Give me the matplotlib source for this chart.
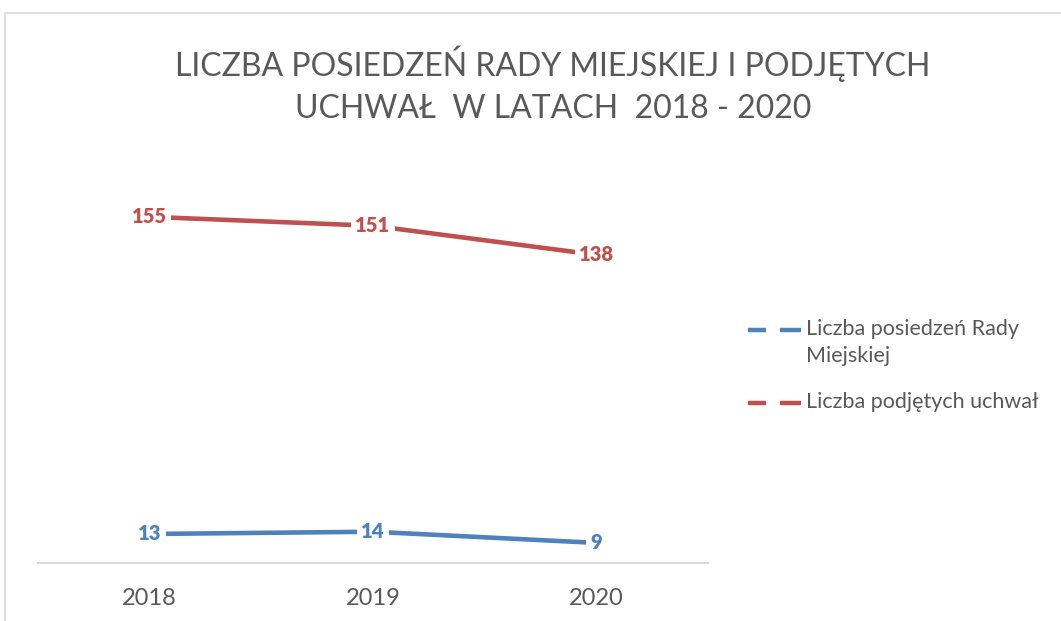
import matplotlib
matplotlib.use("Agg")
import matplotlib.pyplot as plt
from matplotlib.lines import Line2D
from matplotlib.patches import Rectangle

years = ["2018", "2019", "2020"]
posiedzenia = [13, 14, 9]
uchwaly = [155, 151, 138]
series_names = ["Liczba posiedzeń Rady\nMiejskiej", "Liczba podjętych uchwał"]
title = "LICZBA POSIEDZEŃ RADY MIEJSKIEJ I PODJĘTYCH\nUCHWAŁ  W LATACH  2018 - 2020"

BLUE = "#4F81BD"
RED = "#C0504D"
GREY = "#595959"
FONT = "Lato"

plt.rcParams['font.family'] = [FONT, 'DejaVu Sans']

fig = plt.figure(figsize=(10.61, 6.21), dpi=100)
W, H = 1061, 621


def fx(px):
    return px / W


def fy(py):
    return 1 - py / H


fig.patches.append(Rectangle((fx(5), -0.1), 1.2, fy(13) + 0.1, transform=fig.transFigure,
                             fill=False, edgecolor="#d9d9d9", linewidth=1.2))

ax = fig.add_axes([fx(38), fy(563), (708 - 38) / W, (563 - 161) / H])
x = list(range(len(years)))
ax.plot(x, uchwaly, color=RED, linewidth=3.3, solid_capstyle="round", zorder=2)
ax.plot(x, posiedzenia, color=BLUE, linewidth=3.3, solid_capstyle="round", zorder=2)

for series, color in [(uchwaly, RED), (posiedzenia, BLUE)]:
    for xi, v in zip(x, series):
        ax.text(xi, v, str(v), color=color, fontsize=14.5, fontweight="heavy", ha="center",
                va="center", bbox=dict(facecolor="white", edgecolor="none", pad=3), zorder=3)

ax.set_xlim(-0.5, len(years) - 0.5)
ax.set_ylim(0, 180)
ax.set_xticks(x)
ax.set_xticklabels(years, fontsize=17, color=GREY)
ax.tick_params(axis="x", length=0, pad=18)
ax.set_yticks([])
for s in ["left", "right", "top"]:
    ax.spines[s].set_visible(False)
ax.spines["bottom"].set_color("#d9d9d9")
ax.spines["bottom"].set_linewidth(1.5)
ax.patch.set_alpha(0)

fig.text(fx(553), fy(85), title, ha="center", va="center", fontsize=23, color=GREY,
         linespacing=1.5, fontweight="normal")

# legend: dashed handle aligned with the first line of each entry
for color, name, ypx in [(BLUE, series_names[0], 330), (RED, series_names[1], 403)]:
    for x0, x1 in [(748, 766), (780, 801)]:
        fig.add_artist(Line2D([fx(x0), fx(x1)], [fy(ypx), fy(ypx)], transform=fig.transFigure,
                              color=color, linewidth=3.2, solid_capstyle="butt"))
    fig.text(fx(806), fy(ypx - 11), name, ha="left", va="top", fontsize=15.5, color=GREY,
             linespacing=1.45)

fig.savefig("out.png", dpi=100)
